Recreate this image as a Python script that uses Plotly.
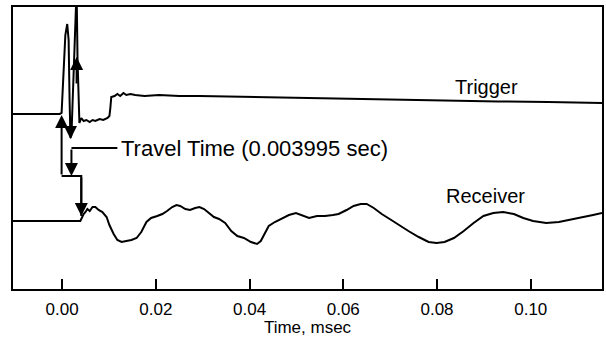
import plotly.graph_objects as go

# ---- data (time in msec, amplitude in arbitrary units) ----
trigger_t = [-0.0105, -0.0005, -0.0001, 0.0003, 0.0007, 0.0011, 0.0014, 0.0016, 0.0018, 0.0020,
             0.0024, 0.0029, 0.0031, 0.0033, 0.0035, 0.0037, 0.0041, 0.0046, 0.0052, 0.0059,
             0.0065, 0.0071, 0.0080, 0.0088, 0.0097, 0.0101, 0.0103, 0.0105, 0.0112, 0.0118,
             0.0124, 0.0131, 0.0137, 0.0146, 0.0156, 0.0176, 0.0207, 0.0250, 0.0293, 0.0399,
             0.0505, 0.0612, 0.0718, 0.0824, 0.0931, 0.1037, 0.1152]
trigger_v = [175, 175, 176, 209, 254, 265, 249, 189, 151, 154,
             219, 300, 300, 229, 179, 166, 171, 168, 169, 167,
             169, 168, 170, 169, 171, 173, 181, 192, 193, 195,
             193, 196, 194, 195, 194, 193, 194, 193, 193, 192,
             191, 190, 189, 188, 187.5, 187, 186]

receiver_t = [-0.0105, 0.0039, 0.0041, 0.0046, 0.0050, 0.0054, 0.0059, 0.0065, 0.0071, 0.0078,
              0.0086, 0.0095, 0.0101, 0.0110, 0.0118, 0.0127, 0.0137, 0.0148, 0.0159, 0.0169,
              0.0180, 0.0190, 0.0203, 0.0214, 0.0224, 0.0235, 0.0244, 0.0252, 0.0263, 0.0273,
              0.0284, 0.0293, 0.0303, 0.0314, 0.0324, 0.0335, 0.0348, 0.0361, 0.0374, 0.0388,
              0.0403, 0.0416, 0.0424, 0.0433, 0.0441, 0.0454, 0.0467, 0.0484, 0.0499, 0.0512,
              0.0527, 0.0544, 0.0561, 0.0578, 0.0590, 0.0607, 0.0622, 0.0637, 0.0650, 0.0665,
              0.0682, 0.0699, 0.0718, 0.0739, 0.0761, 0.0782, 0.0799, 0.0816, 0.0836, 0.0857,
              0.0878, 0.0899, 0.0920, 0.0941, 0.0964, 0.0984, 0.1005, 0.1033, 0.1060, 0.1084,
              0.1112, 0.1133, 0.1152]
receiver_v = [68, 68, 70, 75, 77, 80, 78, 82, 82, 79,
              77, 72, 64, 55, 49, 47, 48, 49, 51, 57,
              67, 71, 73, 75, 78, 82, 84, 83, 80, 79,
              81, 82, 80, 76, 72, 70, 66, 58, 53, 51,
              47, 45, 48, 56, 63, 67, 70, 74, 76, 74,
              71, 73, 73, 74, 75, 79, 83, 85, 85, 81,
              75, 70, 64, 58, 52, 47, 46, 47, 51, 58,
              66, 73, 76, 77, 75, 71, 68, 66, 67, 69,
              72, 74, 76]

# travel-time bracket (lines only)
bracket_t = [-0.0001, 0.0041, 0.0041]
bracket_v = [113, 113, 73]
leader_t = [0.0020, 0.0118]
leader_v = [141, 141]

# arrows: (tip_t, tip_v, tail_t, tail_v)
arrows = [(-0.0001, 174, -0.0001, 113),
          (0.0020, 113, 0.0020, 141),
          (0.0041, 73, 0.0041, 113),
          (0.0018, 150, 0.0018, 171),
          (0.0031, 232, 0.0031, 204)]

tick_vals = [0.00, 0.02, 0.04, 0.06, 0.08, 0.10]
tick_text = ["0.00", "0.02", "0.04", "0.06", "0.08", "0.10"]

FONT = "Liberation Sans, Arial, Helvetica, sans-serif"

fig = go.Figure()
line = dict(color="black", width=2)
fig.add_trace(go.Scatter(x=trigger_t, y=trigger_v, mode="lines", line=line, name="Trigger"))
fig.add_trace(go.Scatter(x=receiver_t, y=receiver_v, mode="lines", line=line, name="Receiver"))
fig.add_trace(go.Scatter(x=bracket_t, y=bracket_v, mode="lines", line=line))
fig.add_trace(go.Scatter(x=leader_t, y=leader_v, mode="lines", line=line))

for tip_t, tip_v, tail_t, tail_v in arrows:
    fig.add_annotation(x=tip_t, y=tip_v, ax=tail_t, ay=tail_v, axref="x", ayref="y",
                       xref="x", yref="y", text="", showarrow=True,
                       arrowhead=2, arrowsize=1.3, arrowwidth=2, arrowcolor="black")

fig.add_annotation(x=0.0121, y=141, text="Travel Time (0.003995 sec)", showarrow=False,
                   xanchor="left", yanchor="middle", font=dict(family=FONT, size=22, color="black"))
fig.add_annotation(x=0.0905, y=202, text="Trigger", showarrow=False,
                   xanchor="center", yanchor="middle", font=dict(family=FONT, size=20, color="black"))
fig.add_annotation(x=0.0903, y=93, text="Receiver", showarrow=False,
                   xanchor="center", yanchor="middle", font=dict(family=FONT, size=20, color="black"))

fig.update_layout(
    width=606, height=337,
    margin=dict(l=13, r=2, t=7, b=48),
    paper_bgcolor="white", plot_bgcolor="white",
    showlegend=False,
    font=dict(family=FONT, color="black"),
    xaxis=dict(range=[-0.01047, 0.1152], tickvals=tick_vals, ticktext=tick_text,
               ticks="inside", ticklen=10, tickwidth=2, tickcolor="black",
               showline=True, linewidth=2, linecolor="black", mirror=True,
               showgrid=False, zeroline=False, ticklabelstandoff=4,
               tickfont=dict(family=FONT, size=17, color="black"),
               title=dict(text="Time, msec", font=dict(family=FONT, size=17, color="black"), standoff=0)),
    yaxis=dict(range=[0, 282], showticklabels=False, ticks="",
               showline=True, linewidth=2, linecolor="black", mirror=True,
               showgrid=False, zeroline=False),
)

fig.write_html("out.html")
